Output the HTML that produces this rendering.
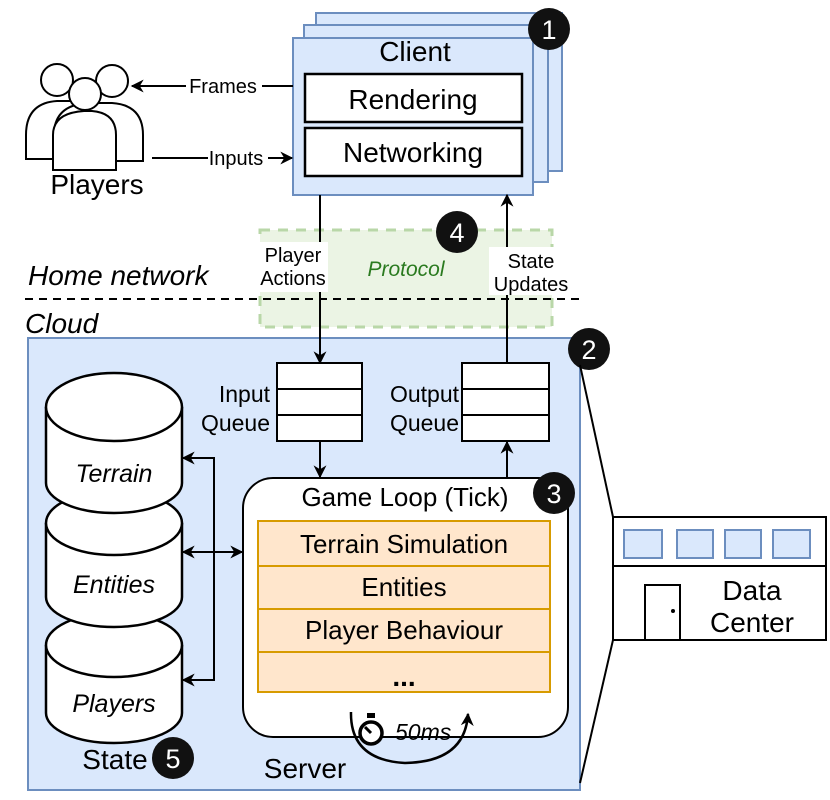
<!DOCTYPE html>
<html><head><meta charset="utf-8"><style>
html,body{margin:0;padding:0;background:#fff}
svg{display:block;font-family:"Liberation Sans",sans-serif}
</style></head><body>
<svg width="830" height="800" viewBox="0 0 830 800" xmlns="http://www.w3.org/2000/svg">
<defs>
<marker id="ah2" viewBox="0 0 10 10" refX="9" refY="5" markerWidth="13" markerHeight="13" orient="auto-start-reverse" markerUnits="userSpaceOnUse">
<path d="M0,0 L10,5 L0,10 L3,5 Z" fill="#000"/></marker>
</defs>

<!-- Client stack -->
<rect x="316" y="13" width="246" height="158" fill="#dae8fc" stroke="#6c8ebf" stroke-width="2"/>
<rect x="304" y="25" width="244" height="157" fill="#dae8fc" stroke="#6c8ebf" stroke-width="2"/>
<rect x="293" y="38" width="240" height="157" fill="#dae8fc" stroke="#6c8ebf" stroke-width="2"/>
<text x="415" y="61" font-size="28" text-anchor="middle">Client</text>
<rect x="305" y="74" width="217" height="48" fill="#fff" stroke="#000" stroke-width="2.5"/>
<text x="413" y="109" font-size="28" text-anchor="middle">Rendering</text>
<rect x="305" y="128" width="217" height="48" fill="#fff" stroke="#000" stroke-width="2.5"/>
<text x="413" y="162" font-size="28" text-anchor="middle">Networking</text>
<circle cx="549" cy="29" r="21" fill="#111"/>
<text x="549" y="39" font-size="27" fill="#fff" text-anchor="middle">1</text>

<!-- Players icon -->
<g fill="#fff" stroke="#000" stroke-width="2">
<path d="M26,159 L26,135 Q26,103 57,101 L88,101 Q118,103 118,135 L118,159 Z"/>
<circle cx="57" cy="80" r="16"/>
<path d="M54,161 L54,135 Q54,105 88,103 L112,103 Q143,105 143,135 L143,161 Z"/>
<circle cx="112" cy="81" r="16"/>
<path d="M53,170 L53,135 Q53,113 84,111 L92,111 Q116,113 116,135 L116,170 Z"/>
<circle cx="85" cy="94" r="16"/>
</g>
<text x="97" y="194" font-size="28" text-anchor="middle">Players</text>

<line x1="293" y1="86" x2="132" y2="86" stroke="#000" stroke-width="2" marker-end="url(#ah2)"/>
<rect x="186" y="74" width="76" height="24" fill="#fff"/>
<text x="223" y="93" font-size="20" text-anchor="middle">Frames</text>
<line x1="152" y1="158" x2="292" y2="158" stroke="#000" stroke-width="2" marker-end="url(#ah2)"/>
<rect x="176" y="146" width="92" height="24" fill="#fff"/>
<text x="236" y="165" font-size="20" text-anchor="middle">Inputs</text>
<line x1="152" y1="158" x2="208" y2="158" stroke="#000" stroke-width="2"/>

<!-- Protocol -->
<rect x="260" y="230" width="292" height="97" fill="#e8f2df" fill-opacity="0.85" stroke="#b9d7a8" stroke-width="3" stroke-dasharray="10,8"/>
<text x="406" y="276" font-size="21" font-style="italic" fill="#2a7a1f" text-anchor="middle">Protocol</text>
<circle cx="457" cy="232" r="21" fill="#111"/>
<text x="457" y="242" font-size="27" fill="#fff" text-anchor="middle">4</text>

<text x="28" y="285" font-size="28" font-style="italic">Home network</text>
<line x1="25" y1="299" x2="585" y2="299" stroke="#000" stroke-width="2" stroke-dasharray="8,6"/>
<text x="25" y="333" font-size="28" font-style="italic">Cloud</text>

<!-- Server -->
<rect x="28" y="338" width="552" height="452" fill="#dae8fc" stroke="#6c8ebf" stroke-width="2"/>
<circle cx="589" cy="349" r="21" fill="#111"/>
<text x="589" y="359" font-size="27" fill="#fff" text-anchor="middle">2</text>

<line x1="320" y1="195" x2="320" y2="363" stroke="#000" stroke-width="2" marker-end="url(#ah2)"/>
<rect x="258" y="242" width="70" height="50" fill="#fff"/>
<text x="293" y="262" font-size="20" text-anchor="middle">Player</text>
<text x="293" y="285" font-size="20" text-anchor="middle">Actions</text>
<line x1="507" y1="363" x2="507" y2="195" stroke="#000" stroke-width="2" marker-end="url(#ah2)"/>
<rect x="489" y="247" width="84" height="48" fill="#fff"/>
<text x="531" y="268" font-size="20" text-anchor="middle">State</text>
<text x="531" y="291" font-size="20" text-anchor="middle">Updates</text>

<!-- Queues -->
<g fill="#fff" stroke="#000" stroke-width="2">
<rect x="277" y="363" width="85" height="78"/>
<line x1="277" y1="389" x2="362" y2="389"/><line x1="277" y1="415" x2="362" y2="415"/>
<rect x="462" y="363" width="87" height="78"/>
<line x1="462" y1="389" x2="549" y2="389"/><line x1="462" y1="415" x2="549" y2="415"/>
</g>
<text x="270" y="402" font-size="23" text-anchor="end">Input</text>
<text x="270" y="431" font-size="23" text-anchor="end">Queue</text>
<text x="459" y="402" font-size="23" text-anchor="end">Output</text>
<text x="459" y="431" font-size="23" text-anchor="end">Queue</text>
<line x1="320" y1="441" x2="320" y2="477" stroke="#000" stroke-width="2" marker-end="url(#ah2)"/>
<line x1="507" y1="478" x2="507" y2="442" stroke="#000" stroke-width="2" marker-end="url(#ah2)"/>

<!-- Game loop -->
<rect x="243" y="478" width="325" height="259" rx="30" fill="#fff" stroke="#000" stroke-width="2"/>
<text x="405" y="506" font-size="26" text-anchor="middle">Game Loop (Tick)</text>
<circle cx="554" cy="493" r="21" fill="#111"/>
<text x="554" y="503" font-size="27" fill="#fff" text-anchor="middle">3</text>
<g fill="#ffe6cc" stroke="#d79b00" stroke-width="2">
<rect x="258" y="521" width="292" height="45"/>
<rect x="258" y="566" width="292" height="43"/>
<rect x="258" y="609" width="292" height="43"/>
<rect x="258" y="652" width="292" height="40"/>
</g>
<text x="404" y="553" font-size="26" text-anchor="middle">Terrain Simulation</text>
<text x="404" y="596" font-size="26" text-anchor="middle">Entities</text>
<text x="404" y="639" font-size="26" text-anchor="middle">Player Behaviour</text>
<text x="404" y="686" font-size="28" font-weight="bold" text-anchor="middle">...</text>

<!-- timer -->
<path d="M351,712 Q350,760 405,763 Q465,762 468,714" fill="none" stroke="#000" stroke-width="2.5" marker-end="url(#ah2)"/>
<circle cx="371" cy="733" r="11" fill="#fff" stroke="#000" stroke-width="3.5"/>
<line x1="371" y1="733" x2="365" y2="727" stroke="#000" stroke-width="3"/>
<rect x="367" y="713" width="8" height="5" fill="#000"/>
<text x="395" y="740" font-size="23" font-style="italic">50ms</text>
<text x="305" y="778" font-size="28" text-anchor="middle">Server</text>

<!-- Cylinders -->
<g fill="#fff" stroke="#000" stroke-width="2.5">
<path d="M46,645 L46,713 A68,30 0 0 0 182,713 L182,645 A68,32 0 0 0 46,645 Z"/>
<path d="M46,645 A68,32 0 0 0 182,645"/>
<path d="M46,523 L46,597 A68,30 0 0 0 182,597 L182,523 A68,32 0 0 0 46,523 Z"/>
<path d="M46,523 A68,32 0 0 0 182,523"/>
<path d="M46,407 L46,483 A68,30 0 0 0 182,483 L182,407 A68,34 0 0 0 46,407 Z"/>
<path d="M46,407 A68,34 0 0 0 182,407"/>
</g>
<text x="114" y="482" font-size="25" font-style="italic" text-anchor="middle">Terrain</text>
<text x="114" y="593" font-size="25" font-style="italic" text-anchor="middle">Entities</text>
<text x="114" y="712" font-size="25" font-style="italic" text-anchor="middle">Players</text>
<text x="115" y="769" font-size="28" text-anchor="middle">State</text>
<circle cx="173" cy="758" r="21" fill="#111"/>
<text x="173" y="768" font-size="27" fill="#fff" text-anchor="middle">5</text>

<path d="M183,458 L214,458 L214,680 L183,680" fill="none" stroke="#000" stroke-width="2" marker-start="url(#ah2)" marker-end="url(#ah2)"/>
<line x1="183" y1="552" x2="242" y2="552" stroke="#000" stroke-width="2" marker-start="url(#ah2)" marker-end="url(#ah2)"/>

<!-- Data center -->
<line x1="580" y1="365" x2="613" y2="517" stroke="#000" stroke-width="2"/>
<line x1="580" y1="783" x2="613" y2="640" stroke="#000" stroke-width="2"/>
<rect x="613" y="517" width="213" height="123" fill="#fff" stroke="#000" stroke-width="2"/>
<line x1="613" y1="566" x2="826" y2="566" stroke="#000" stroke-width="2"/>
<g fill="#dae8fc" stroke="#6c8ebf" stroke-width="2">
<rect x="624" y="530" width="38" height="28"/>
<rect x="677" y="530" width="36" height="28"/>
<rect x="725" y="530" width="36" height="28"/>
<rect x="773" y="530" width="37" height="28"/>
</g>
<rect x="645" y="585" width="35" height="55" fill="#fff" stroke="#000" stroke-width="2"/>
<circle cx="673" cy="611" r="2" fill="#000"/>
<text x="752" y="600" font-size="28" text-anchor="middle">Data</text>
<text x="752" y="632" font-size="28" text-anchor="middle">Center</text>
</svg>
</body></html>
